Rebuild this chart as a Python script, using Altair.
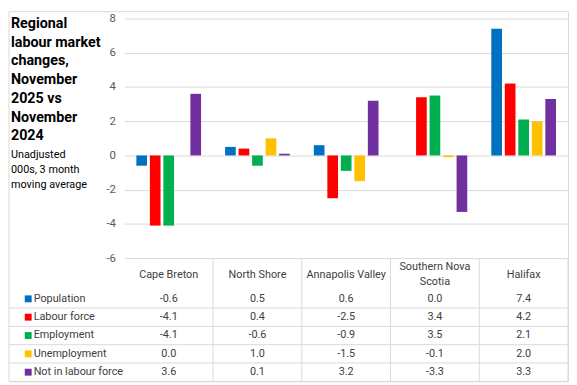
import altair as alt
import pandas as pd

# ---------------- data ----------------
regions = ["Cape Breton", "North Shore", "Annapolis Valley", "Southern Nova Scotia", "Halifax"]
header_line1 = ["Cape Breton", "North Shore", "Annapolis Valley", "Southern Nova", "Halifax"]
header_line2 = ["", "", "", "Scotia", ""]
series = ["Population", "Labour force", "Employment", "Unemployment", "Not in labour force"]
colors = ["#0070C0", "#FF0000", "#00B050", "#FFC000", "#7030A0"]
population = [-0.6, 0.5, 0.6, 0.0, 7.4]
labour_force = [-4.1, 0.4, -2.5, 3.4, 4.2]
employment = [-4.1, -0.6, -0.9, 3.5, 2.1]
unemployment = [0.0, 1.0, -1.5, -0.1, 2.0]
not_in_labour_force = [3.6, 0.1, 3.2, -3.3, 3.3]
y_ticks = [-6, -4, -2, 0, 2, 4, 6, 8]
title_lines = ["Regional", "labour market", "changes,", "November", "2025 vs", "November", "2024"]
subtitle_lines = ["Unadjusted", "000s, 3 month", "moving average"]

values_by_series = [population, labour_force, employment, unemployment, not_in_labour_force]
rows = []
for s, vals in zip(series, values_by_series):
    for r, v in zip(regions, vals):
        rows.append({"region": r, "series": s, "value": v, "label": f"{v:.1f}"})
df = pd.DataFrame(rows)
hdr_df = pd.DataFrame({"region": regions, "l1": header_line1, "l2": header_line2})
ser_df = pd.DataFrame({"series": series})
title_df = pd.DataFrame({"i": list(range(len(title_lines))), "t": title_lines})
sub_df = pd.DataFrame({"i": list(range(len(subtitle_lines))), "t": subtitle_lines})
one = pd.DataFrame({"k": [0]})

# ---------------- layout ----------------
W = 450          # plot width (5 columns)
BAR_H = 243      # bar area height
ROW_TOP = 275    # first table row top
ROW_H = 18.6
H = ROW_TOP + ROW_H * len(series)
LEFT = 117
FONT = "Roboto, sans-serif"
GRID = "#D9D9D9"
TXT = "#404040"
HDR_Y = 260

x_scale = alt.Scale(domain=regions, paddingInner=0, paddingOuter=0)
row_scale = alt.Scale(domain=series, range=[ROW_TOP, H], paddingInner=0, paddingOuter=0)
color_scale = alt.Scale(domain=series, range=colors)

bars = alt.Chart(df).mark_bar().encode(
    x=alt.X("region:N", scale=x_scale, axis=None),
    xOffset=alt.XOffset("series:N", scale=alt.Scale(domain=series, paddingInner=0.21, paddingOuter=0.89)),
    y=alt.Y("value:Q", scale=alt.Scale(domain=[-6, 8], range=[BAR_H, 0], nice=False, zero=True),
            axis=alt.Axis(values=y_ticks, grid=True, gridColor=GRID, gridWidth=1, domain=False,
                          ticks=False, labelPadding=9, labelFontSize=11.5, labelColor="#595959",
                          labelFont=FONT, labelExpr="'' + datum.value", title=None)),
    color=alt.Color("series:N", scale=color_scale, legend=None),
)

# table vertical lines (column right edges)
vlines = alt.Chart(hdr_df).mark_rule(color=GRID, strokeWidth=1).encode(
    x=alt.X("region:N", scale=x_scale, axis=None, bandPosition=1),
    y=alt.value(BAR_H),
    y2=alt.value(H),
)

# table horizontal lines (row bottoms)
hlines = alt.Chart(ser_df).mark_rule(color=GRID, strokeWidth=1).encode(
    y=alt.Y("series:N", scale=row_scale, axis=None, bandPosition=1),
    x=alt.value(-LEFT),
    x2=alt.value(W),
)

hdr_text = dict(font=FONT, fontSize=11, color=TXT, baseline="middle")
header_single = alt.Chart(hdr_df).transform_filter("datum.l2 == ''").mark_text(**hdr_text).encode(
    x=alt.X("region:N", scale=x_scale, axis=None),
    y=alt.value(HDR_Y),
    text="l1:N",
)
header_two_a = alt.Chart(hdr_df).transform_filter("datum.l2 != ''").mark_text(**hdr_text).encode(
    x=alt.X("region:N", scale=x_scale, axis=None),
    y=alt.value(HDR_Y - 7.5),
    text="l1:N",
)
header_two_b = alt.Chart(hdr_df).transform_filter("datum.l2 != ''").mark_text(**hdr_text).encode(
    x=alt.X("region:N", scale=x_scale, axis=None),
    y=alt.value(HDR_Y + 7.5),
    text="l2:N",
)

cells = alt.Chart(df).mark_text(font=FONT, fontSize=11, color=TXT, baseline="middle").encode(
    x=alt.X("region:N", scale=x_scale, axis=None),
    y=alt.Y("series:N", scale=row_scale, axis=None),
    text="label:N",
)

keys = alt.Chart(ser_df).mark_square(size=49, opacity=1).encode(
    x=alt.value(-97.5),
    y=alt.Y("series:N", scale=row_scale, axis=None),
    color=alt.Color("series:N", scale=color_scale, legend=None),
)

key_labels = alt.Chart(ser_df).mark_text(font=FONT, fontSize=11, color=TXT, align="left",
                                         baseline="middle").encode(
    x=alt.value(-92),
    y=alt.Y("series:N", scale=row_scale, axis=None),
    text="series:N",
)

title = alt.Chart(title_df).mark_text(font=FONT, fontSize=14.5, fontWeight="bold", color="#000000",
                                      align="left", baseline="middle").encode(
    x=alt.value(-115),
    y=alt.Y("i:Q", scale=alt.Scale(domain=[0, len(title_lines) - 1], range=[5.6, 119.6]), axis=None),
    text="t:N",
)

subtitle = alt.Chart(sub_df).mark_text(font=FONT, fontSize=11, color="#000000",
                                       align="left", baseline="middle").encode(
    x=alt.value(-115),
    y=alt.Y("i:Q", scale=alt.Scale(domain=[0, len(subtitle_lines) - 1], range=[138.2, 168.6]), axis=None),
    text="t:N",
)

border = alt.Chart(one).mark_rect(filled=False, stroke=GRID, strokeWidth=1).encode(
    x=alt.value(-LEFT), x2=alt.value(W + 0.5), y=alt.value(-7), y2=alt.value(H + 0.5),
)

chart = alt.layer(
    bars, vlines, hlines, header_single, header_two_a, header_two_b, cells, keys, key_labels,
    title, subtitle, border
).resolve_scale(y="independent").properties(
    width=W, height=H, padding=0
).configure_view(stroke=None)

chart.save("out.html", embed_options={"renderer": "svg", "actions": False})
